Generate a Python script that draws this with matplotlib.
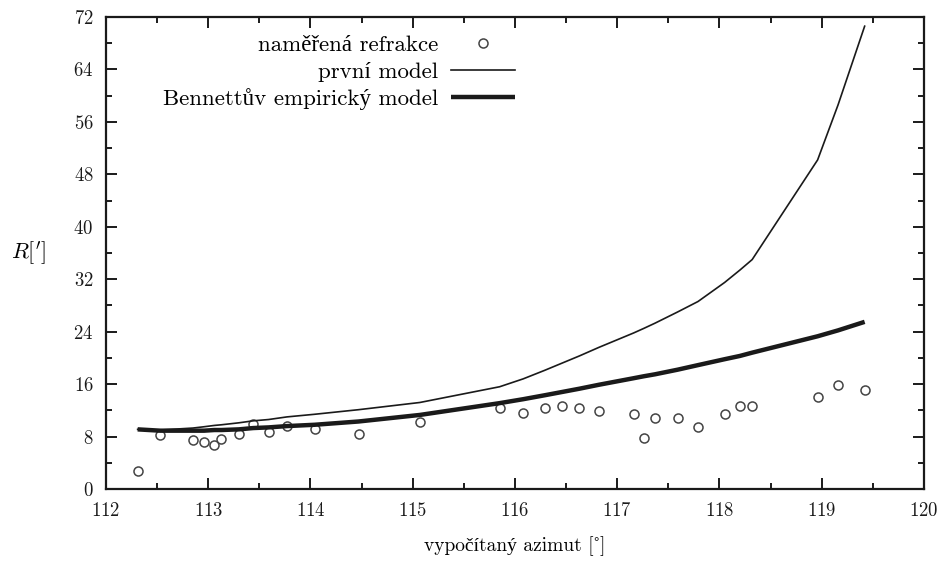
import numpy as np
import matplotlib
matplotlib.use("Agg")
import matplotlib.pyplot as plt
from matplotlib.ticker import MultipleLocator

plt.rcParams['font.family'] = ['cmr10', 'Liberation Serif', 'DejaVu Serif']
plt.rcParams['mathtext.fontset'] = 'cm'
plt.rcParams['axes.formatter.use_mathtext'] = True

# azimuth [deg] of each measurement
azimut = [112.31, 112.53, 112.85, 112.96, 113.06, 113.13, 113.30, 113.44, 113.59, 113.77,
          114.04, 114.47, 115.07, 115.85, 116.08, 116.29, 116.46, 116.63, 116.82, 117.16,
          117.26, 117.37, 117.59, 117.79, 118.05, 118.20, 118.32, 118.96, 119.16, 119.42]

# measured refraction [arcmin]
refrakce = [2.75, 8.24, 7.47, 7.17, 6.71, 7.63, 8.39, 9.91, 8.69, 9.61,
            9.15, 8.39, 10.22, 12.36, 11.59, 12.36, 12.66, 12.36, 11.90, 11.44,
            7.78, 10.83, 10.83, 9.46, 11.44, 12.66, 12.66, 14.03, 15.86, 15.10]

# first model evaluated at the same azimuths
prvni_model = [9.1, 9.0, 9.3, 9.5, 9.7, 9.8, 10.1, 10.4, 10.6, 11.0,
               11.4, 12.1, 13.2, 15.6, 16.8, 18.1, 19.2, 20.3, 21.6, 23.8,
               24.5, 25.3, 27.0, 28.6, 31.5, 33.4, 35.0, 50.2, 58.6, 70.6]

# Bennett's empirical formula
bennett = [9.1, 8.9, 8.9, 8.9, 9.0, 9.0, 9.1, 9.3, 9.4, 9.6,
           9.8, 10.3, 11.3, 13.1, 13.7, 14.3, 14.8, 15.3, 15.9, 16.9,
           17.2, 17.5, 18.2, 18.9, 19.8, 20.3, 20.8, 23.3, 24.2, 25.5]

fig = plt.figure(figsize=(9.46, 5.63), dpi=100)
ax = fig.add_axes([0.112, 0.1314, 0.8647, 0.8384])

ax.plot(azimut, refrakce, 'o', mfc='none', mec='#444444', mew=1.1, ms=6.5,
        label='naměřená refrakce')
ax.plot(azimut, prvni_model, '-', color='#1a1a1a', lw=1.2, label='první model')
ax.plot(azimut, bennett, '-', color='#1a1a1a', lw=3.2, solid_capstyle='butt',
        label='Bennettův empirický model')

ax.set_xlim(112, 120)
ax.set_ylim(0, 72)
ax.xaxis.set_major_locator(MultipleLocator(1))
ax.xaxis.set_minor_locator(MultipleLocator(0.5))
ax.yaxis.set_major_locator(MultipleLocator(8))
ax.yaxis.set_minor_locator(MultipleLocator(4))
ax.tick_params(which='both', direction='in', top=True, right=True, width=1.4,
               labelsize=13.5, colors='#1a1a1a')
ax.tick_params(which='major', length=8, pad=9)
ax.tick_params(which='minor', length=4)
for s in ax.spines.values():
    s.set_linewidth(1.6)
    s.set_color('#1a1a1a')

ax.set_xlabel('vypočítaný azimut [\u02da]', fontsize=14, labelpad=12)
ax.set_ylabel(r'$R[{}^\prime]$', fontsize=16, rotation=0, va='center', ha='center')
ax.yaxis.set_label_coords(-0.095, 0.5)

leg = ax.legend(loc='upper right', bbox_to_anchor=(0.525, 1.005), frameon=False,
                markerfirst=False, fontsize=16.5, handlelength=2.8,
                labelspacing=0.27, handletextpad=0.55)
for t in leg.get_texts():
    t.set_ha('right')

fig.savefig('out.png', dpi=100)
